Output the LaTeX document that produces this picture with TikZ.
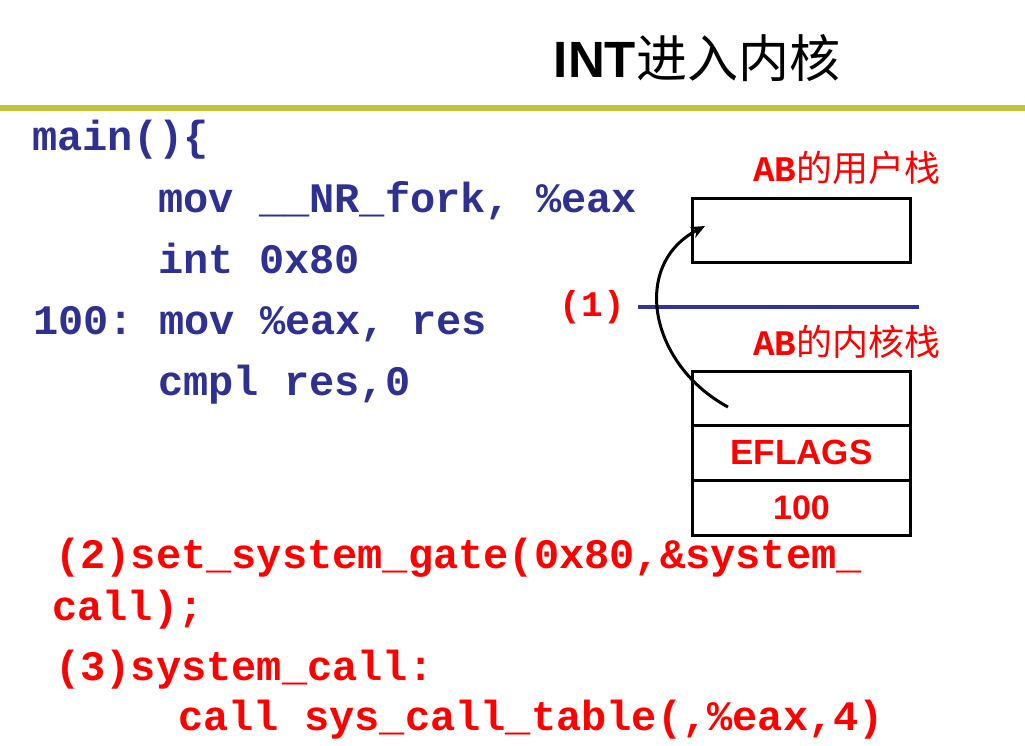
\documentclass[tikz,border=0pt]{standalone}
\usepackage{fontspec}
\setmainfont{Liberation Sans}
\setmonofont{Liberation Mono}
\newfontfamily\cjk{Noto Sans CJK SC}
\usetikzlibrary{arrows.meta}
\definecolor{codeblue}{HTML}{2E3192}
\definecolor{olive}{HTML}{C3C43A}
\definecolor{linblue}{HTML}{33339A}
\definecolor{red}{HTML}{FF0000}
\tikzset{
  code/.style={anchor=base west, inner sep=0pt, font=\fontsize{42}{42}\selectfont\ttfamily\bfseries, text=codeblue},
  rcode/.style={anchor=base west, inner sep=0pt, font=\fontsize{42}{42}\selectfont\ttfamily\bfseries, text=red},
  slabel/.style={anchor=base west, inner sep=0pt, text=red},
  cell/.style={draw=black, line width=3pt, minimum width=218pt, inner sep=0pt, outer sep=0pt, font=\fontsize{35}{35}\selectfont\bfseries, text=red}
}
\begin{document}
\begin{tikzpicture}[x=1pt,y=-1pt]
\useasboundingbox (0,0) rectangle (1025,745);
% title
\node[anchor=base, inner sep=0pt] (title) at (697,77) {\fontsize{51}{51}\selectfont\bfseries INT\cjk\mdseries 进入内核};
\draw[olive, line width=6pt] (0,108) -- (1025,108);
% blue code
\node[code] (l1) at (32,150) {main()\{};
\node[code] (l2) at (158,212) {mov \_\_NR\_fork, \%eax};
\node[code] (l3) at (158,273) {int 0x80};
\node[code] (l4) at (33,334) {100: mov \%eax, res};
\node[code] (l5) at (158,395) {cmpl res,0};
% red code
\node[rcode] (r1) at (55,568) {(2)set\_system\_gate(0x80,\&system\_};
\node[rcode] (r2) at (52,620) {call);};
\node[rcode] (r3) at (55,680) {(3)system\_call:};
\node[rcode] (r4) at (178,730) {call sys\_call\_table(,\%eax,4)};
% user stack
\node[slabel] (ul) at (753,181) {\fontsize{36}{36}\selectfont\ttfamily\bfseries AB\cjk\mdseries 的用户栈};
\node[cell, minimum height=64pt] (ubox) at (801.5,230) {};
% divider
\node[anchor=east, inner sep=0pt, font=\fontsize{36}{36}\selectfont\ttfamily\bfseries, text=red] (one) at (625,307) {(1)};
\coordinate (da) at (638,307);
\coordinate (db) at (919,307);
\draw[linblue, line width=4pt] (da) -- (db);
% kernel stack
\node[slabel] (kl) at (753,355) {\fontsize{36}{36}\selectfont\ttfamily\bfseries AB\cjk\mdseries 的内核栈};
\node[cell, minimum height=54pt, anchor=north] (k1) at (801.5,371) {};
\node[cell, minimum height=55pt, anchor=north] (k2) at (k1.south) {EFLAGS};
\node[cell, minimum height=55pt, anchor=north, font=\fontsize{34}{34}\selectfont\bfseries] (k3) at (k2.south) {100};
% arrow
\coordinate (as) at (728,407);
\coordinate (ae) at (705,226);
\draw[black, line width=3pt, -{Stealth[length=14pt,width=12pt]}] (as) .. controls (650,365) and (630,265) .. (ae);
\end{tikzpicture}
\end{document}
